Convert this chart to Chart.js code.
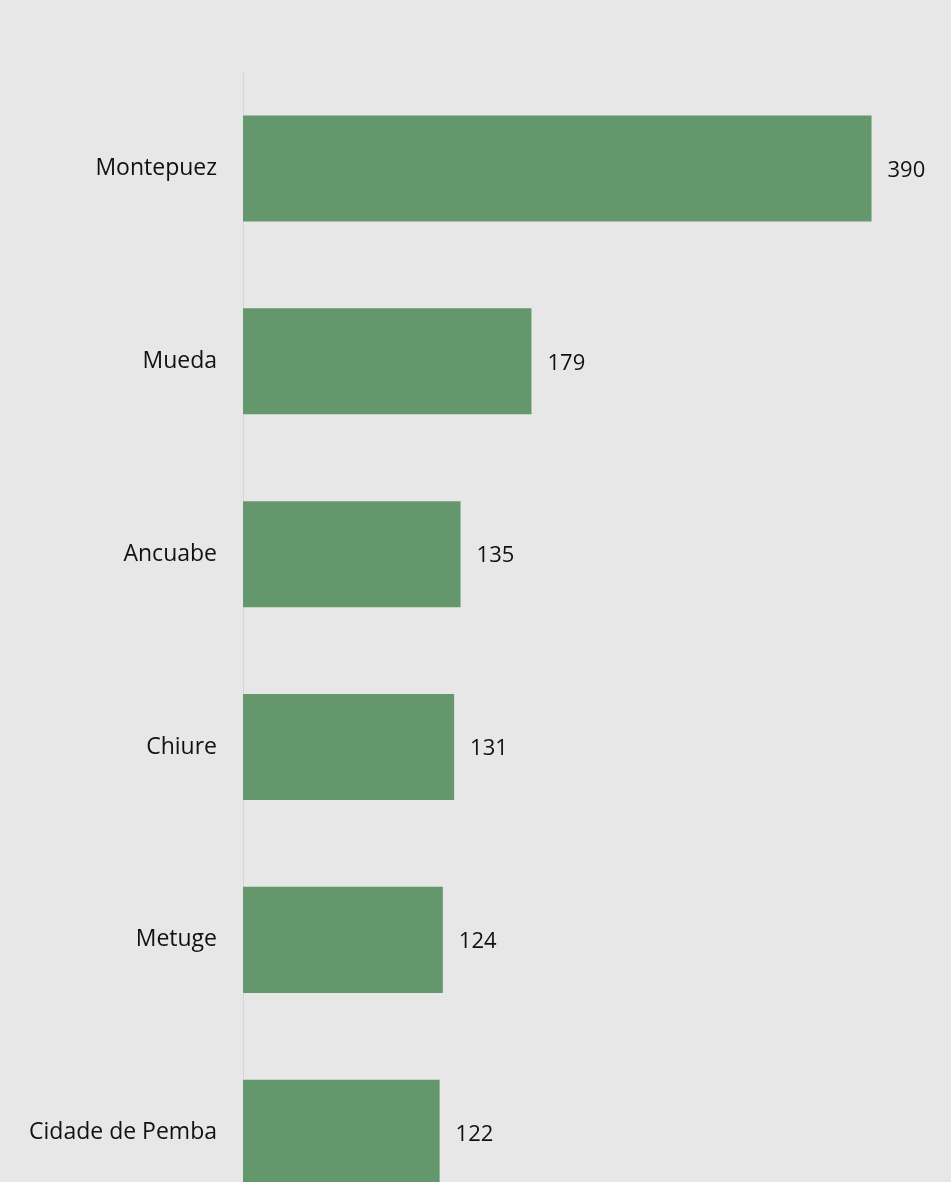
<!DOCTYPE html>
<html>
<head>
<meta charset="utf-8">
<script src="https://cdn.jsdelivr.net/npm/chart.js@4/dist/chart.umd.min.js"></script>
<style>
  html, body { margin: 0; padding: 0; background: #e7e7e7; overflow: hidden; }
  canvas { display: block; }
</style>
</head>
<body>
<canvas id="chart" width="951" height="1269"></canvas>
<script>
// Districts and counts
const districts = ['Montepuez', 'Mueda', 'Ancuabe', 'Chiure', 'Metuge', 'Cidade de Pemba'];
const counts = [390, 179, 135, 131, 124, 122];

const FONT = '"Open Sans", sans-serif';

// draws the value just past the end of each bar
const valueLabels = {
    id: 'valueLabels',
    afterDatasetsDraw(chart) {
        const ctx = chart.ctx;
        const meta = chart.getDatasetMeta(0);
        ctx.save();
        ctx.font = '22px ' + FONT;
        ctx.fillStyle = '#111';
        ctx.textAlign = 'left';
        ctx.textBaseline = 'middle';
        meta.data.forEach((bar, i) => {
            ctx.fillText(String(counts[i]), bar.x + 16, bar.y + 2);
        });
        ctx.restore();
    }
};

const ctx = document.getElementById('chart').getContext('2d');
new Chart(ctx, {
    type: 'bar',
    data: {
        labels: districts,
        datasets: [{
            data: counts,
            backgroundColor: '#64976c',
            barPercentage: 0.55,
            categoryPercentage: 1
        }]
    },
    options: {
        indexAxis: 'y',
        responsive: false,
        animation: false,
        layout: { padding: { top: 72, right: 15, bottom: 0, left: 0 } },
        plugins: {
            legend: { display: false },
            tooltip: { enabled: false }
        },
        scales: {
            x: {
                display: false,
                min: 0,
                max: 430
            },
            y: {
                afterFit(scale) { scale.width = 243; },
                grid: { display: false, drawTicks: false },
                border: { display: true, color: '#d6d6d6', width: 1 },
                ticks: {
                    padding: 26,
                    color: '#111',
                    font: { family: FONT, size: 23 }
                }
            }
        }
    },
    plugins: [valueLabels]
});
</script>
</body>
</html>
